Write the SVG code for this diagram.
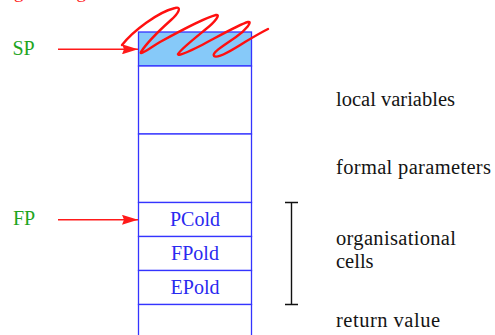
<svg xmlns="http://www.w3.org/2000/svg" width="495" height="335" viewBox="0 0 495 335">
  <style>
    .cell { fill: #ffffff; stroke: #3434ff; stroke-width: 1.3; }
    .top { fill: #86c9f9; }
    .cl { font-family: "Liberation Serif", "Times New Roman", serif; font-size: 20px; fill: #2a2af0; text-anchor: middle; }
    .lbl { font-family: "Liberation Serif", "Times New Roman", serif; font-size: 20.5px; fill: #141414; }
    .reg { font-family: "Liberation Serif", "Times New Roman", serif; font-size: 20px; fill: #1ea51e; }
    .ptr { stroke: #ff1a1a; stroke-width: 1.5; fill: none; }
    .brk { stroke: #111111; stroke-width: 1.4; fill: none; }
  </style>
  <defs>
    <marker id="head" viewBox="0 0 16 10" refX="16" refY="5" markerWidth="16" markerHeight="10" markerUnits="userSpaceOnUse" orient="auto">
      <path d="M0,0 L16,5 L0,10 L2,5 Z" fill="#ff1a1a"/>
    </marker>
  </defs>

  <rect width="495" height="335" fill="#ffffff"/>

  <!-- heading, mostly above the visible area -->
  <text x="14" y="-2" style="font-family:'Liberation Serif','Times New Roman',serif;font-size:19px;fill:#ff2020" textLength="72" lengthAdjust="spacing">growing</text>

  <!-- stack frame cells -->
  <g id="cell-top"><rect class="cell top" x="138.5" y="32" width="113" height="34"/></g>
  <g id="cell-locals"><rect class="cell" x="138.5" y="66" width="113" height="68"/></g>
  <g id="cell-params"><rect class="cell" x="138.5" y="134" width="113" height="68.5"/></g>
  <g id="cell-pcold"><rect class="cell" x="138.5" y="202.5" width="113" height="34"/><text class="cl" x="195" y="225.5">PCold</text></g>
  <g id="cell-fpold"><rect class="cell" x="138.5" y="236.5" width="113" height="34"/><text class="cl" x="195" y="259.5">FPold</text></g>
  <g id="cell-epold"><rect class="cell" x="138.5" y="270.5" width="113" height="34"/><text class="cl" x="195" y="293.5">EPold</text></g>
  <g id="cell-ret"><rect class="cell" x="138.5" y="304.5" width="113" height="40"/></g>

  <!-- register labels -->
  <g id="sp"><text class="reg" x="12.5" y="55">SP</text></g>
  <g id="fp"><text class="reg" x="13" y="225">FP</text></g>

  <!-- region descriptions -->
  <g id="desc-locals"><text class="lbl" x="336" y="106" textLength="119" lengthAdjust="spacing">local variables</text></g>
  <g id="desc-params"><text class="lbl" x="336" y="174" textLength="155" lengthAdjust="spacing">formal parameters</text></g>
  <g id="desc-org"><text class="lbl" x="336" y="245" textLength="120" lengthAdjust="spacing">organisational</text><text class="lbl" x="336" y="268">cells</text></g>
  <g id="desc-ret"><text class="lbl" x="336" y="327" textLength="104" lengthAdjust="spacing">return value</text></g>

  <!-- connectors -->
  <g id="connectors">
    <line class="ptr" x1="58" y1="49.3" x2="138" y2="49.3" marker-end="url(#head)"/>
    <line class="ptr" x1="58" y1="219.8" x2="138" y2="219.8" marker-end="url(#head)"/>
    <!-- bracket over the organisational cells -->
    <path class="brk" d="M291.5,202.5 V304.5 M285,202.5 H298 M285,304.5 H298"/>
    <!-- hand-drawn strike-through of the top cell -->
    <path d="M122,45 C133,31 158,12 175,8 C182,6 179,13 171,20 C161,29 146,44 141,52 C139,56 150,48 160,42 C180,31 204,18 216,15 C221,14 215,22 206,29 C195,38 181,49 178,54 C177,57 190,51 200,46 C219,36 240,24 248,22 C253,21 246,30 236,37 C225,45 211,53 214,56 C218,59 234,49 245,42 C255,36 262,32 268,29" fill="none" stroke="#ff1010" stroke-width="2.4" stroke-linecap="round" stroke-linejoin="round"/>
  </g>
</svg>
